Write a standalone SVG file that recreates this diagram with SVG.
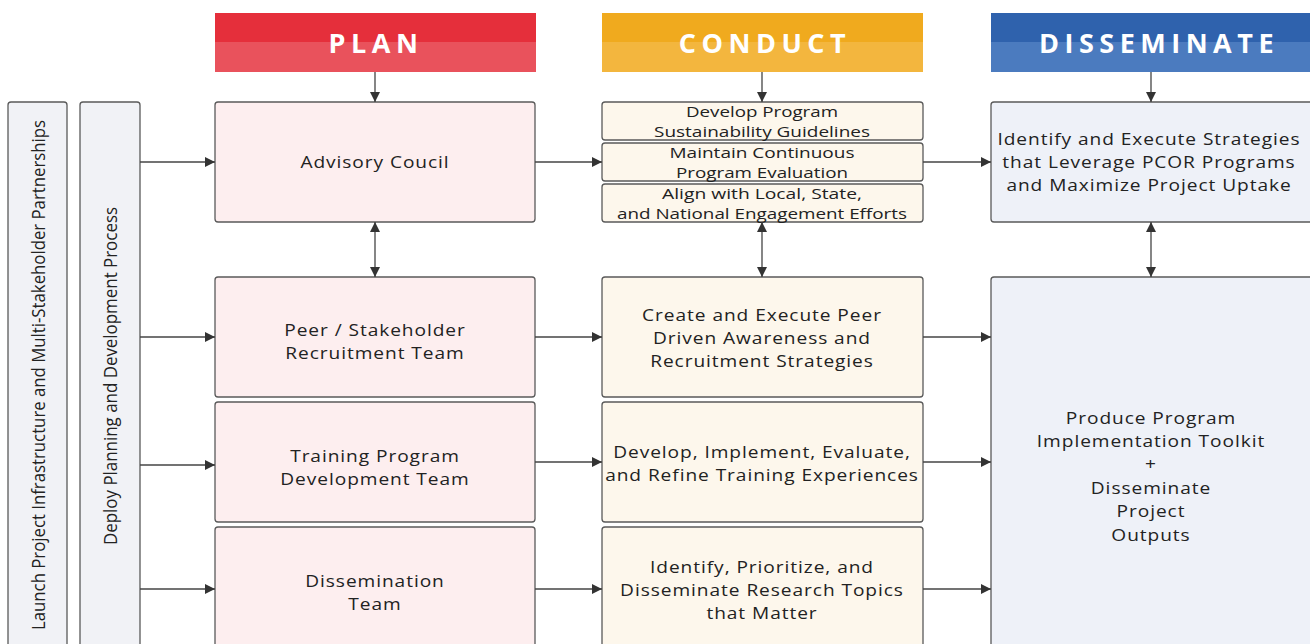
<svg xmlns="http://www.w3.org/2000/svg" width="1310" height="644" viewBox="0 0 1310 644">
  <defs>
    <marker id="arrow" viewBox="0 0 10 10" refX="10" refY="5" markerWidth="10" markerHeight="10" markerUnits="userSpaceOnUse" orient="auto-start-reverse">
      <path d="M0,0 L10,5 L0,10 Z" fill="#333"/>
    </marker>
    <style>
      .box { stroke: #5a5a5a; stroke-width: 1.3; }
      .plan { fill: #fdeeef; }
      .conduct { fill: #fdf7ec; }
      .diss { fill: #eef1f8; }
      .bar { fill: #f1f2f6; }
      .t { font-family: "Open Sans", "Noto Sans", sans-serif; font-size: 16.5px; letter-spacing: 0.8px; fill: #222; text-anchor: middle; dominant-baseline: central; }
      .ts { font-size: 14.5px; letter-spacing: 0; }
      .rt { letter-spacing: 0; font-size: 18px; }
      .hd { font-family: "Open Sans", "Noto Sans", sans-serif; font-size: 27px; font-weight: bold; fill: #fff; text-anchor: middle; dominant-baseline: central; letter-spacing: 5.5px; }
      .c { stroke: #444; stroke-width: 1.3; fill: none; }
    </style>
  </defs>
  <rect width="1310" height="644" fill="#fff"/>

  <!-- Column headers -->
  <g id="header-plan">
    <rect x="215" y="13" width="321" height="30" fill="#e52f3b"/>
    <rect x="215" y="42" width="321" height="30" fill="#e9525c"/>
    <text class="hd" x="376" y="42">PLAN</text>
  </g>
  <g id="header-conduct">
    <rect x="602" y="13" width="321" height="30" fill="#f0aa1e"/>
    <rect x="602" y="42" width="321" height="30" fill="#f3b63e"/>
    <text class="hd" x="765" y="42">CONDUCT</text>
  </g>
  <g id="header-disseminate">
    <rect x="991" y="13" width="320" height="30" fill="#2f62ad"/>
    <rect x="991" y="42" width="320" height="30" fill="#4b7bbf"/>
    <text class="hd" x="1159" y="42">DISSEMINATE</text>
  </g>

  <!-- Side bars -->
  <g id="bar-launch">
    <rect class="box bar" x="8" y="102" width="59" height="560" rx="3"/>
    <text class="t rt" transform="translate(38,375) rotate(-90)" textLength="510" lengthAdjust="spacingAndGlyphs">Launch Project Infrastructure and Multi-Stakeholder Partnerships</text>
  </g>
  <g id="bar-deploy">
    <rect class="box bar" x="80" y="102" width="60" height="560" rx="3"/>
    <text class="t rt" transform="translate(110,376) rotate(-90)" textLength="338" lengthAdjust="spacingAndGlyphs">Deploy Planning and Development Process</text>
  </g>

  <!-- Plan column (labels drawn slightly wide) -->
  <g id="advisory">
    <rect class="box plan" x="215" y="102" width="320" height="120" rx="3"/>
    <g transform="translate(375,0) scale(1.16,1)">
      <text class="t" x="0" y="162">Advisory Coucil</text>
    </g>
  </g>
  <g id="recruitment">
    <rect class="box plan" x="215" y="277" width="320" height="120" rx="3"/>
    <g transform="translate(375,0) scale(1.16,1)">
      <text class="t" x="0" y="330">Peer / Stakeholder</text>
      <text class="t" x="0" y="353">Recruitment Team</text>
    </g>
  </g>
  <g id="training">
    <rect class="box plan" x="215" y="402" width="320" height="120" rx="3"/>
    <g transform="translate(375,0) scale(1.16,1)">
      <text class="t" x="0" y="456">Training Program</text>
      <text class="t" x="0" y="479">Development Team</text>
    </g>
  </g>
  <g id="dissemination-team">
    <rect class="box plan" x="215" y="527" width="320" height="135" rx="3"/>
    <g transform="translate(375,0) scale(1.16,1)">
      <text class="t" x="0" y="581">Dissemination</text>
      <text class="t" x="0" y="604">Team</text>
    </g>
  </g>

  <!-- Conduct column: three stacked task boxes -->
  <g id="sustainability">
    <rect class="box conduct" x="602" y="102" width="321" height="38" rx="3"/>
    <text class="t ts" x="762" y="111" textLength="152" lengthAdjust="spacingAndGlyphs">Develop Program</text>
    <text class="t ts" x="762" y="131" textLength="216" lengthAdjust="spacingAndGlyphs">Sustainability Guidelines</text>
  </g>
  <g id="evaluation">
    <rect class="box conduct" x="602" y="143" width="321" height="38" rx="3"/>
    <text class="t ts" x="762" y="152" textLength="185" lengthAdjust="spacingAndGlyphs">Maintain Continuous</text>
    <text class="t ts" x="762" y="172" textLength="172" lengthAdjust="spacingAndGlyphs">Program Evaluation</text>
  </g>
  <g id="engagement">
    <rect class="box conduct" x="602" y="184" width="321" height="38" rx="3"/>
    <text class="t ts" x="762" y="193" textLength="200" lengthAdjust="spacingAndGlyphs">Align with Local, State,</text>
    <text class="t ts" x="762" y="213" textLength="290" lengthAdjust="spacingAndGlyphs">and National Engagement Efforts</text>
  </g>
  <g id="awareness">
    <rect class="box conduct" x="602" y="277" width="321" height="120" rx="3"/>
    <g transform="translate(762,0) scale(1.16,1)">
      <text class="t" x="0" y="315">Create and Execute Peer</text>
      <text class="t" x="0" y="338">Driven Awareness and</text>
      <text class="t" x="0" y="361">Recruitment Strategies</text>
    </g>
  </g>
  <g id="training-experiences">
    <rect class="box conduct" x="602" y="402" width="321" height="120" rx="3"/>
    <g transform="translate(762,0) scale(1.16,1)">
      <text class="t" x="0" y="452">Develop, Implement, Evaluate,</text>
      <text class="t" x="0" y="475">and Refine Training Experiences</text>
    </g>
  </g>
  <g id="research-topics">
    <rect class="box conduct" x="602" y="527" width="321" height="135" rx="3"/>
    <g transform="translate(762,0) scale(1.16,1)">
      <text class="t" x="0" y="567">Identify, Prioritize, and</text>
      <text class="t" x="0" y="590">Disseminate Research Topics</text>
      <text class="t" x="0" y="613">that Matter</text>
    </g>
  </g>

  <!-- Disseminate column -->
  <g id="strategies">
    <rect class="box diss" x="991" y="102" width="325" height="120" rx="3"/>
    <g transform="translate(1149,0) scale(1.16,1)">
      <text class="t" x="0" y="139">Identify and Execute Strategies</text>
      <text class="t" x="0" y="162">that Leverage PCOR Programs</text>
      <text class="t" x="0" y="185">and Maximize Project Uptake</text>
    </g>
  </g>
  <g id="toolkit">
    <rect class="box diss" x="991" y="277" width="325" height="385" rx="3"/>
    <g transform="translate(1151,0) scale(1.16,1)">
      <text class="t" x="0" y="418">Produce Program</text>
      <text class="t" x="0" y="441">Implementation Toolkit</text>
      <text class="t" x="0" y="464">+</text>
      <text class="t" x="0" y="488">Disseminate</text>
      <text class="t" x="0" y="511">Project</text>
      <text class="t" x="0" y="535">Outputs</text>
    </g>
  </g>

  <!-- Connectors -->
  <g id="connectors">
    <line class="c" x1="375" y1="72" x2="375" y2="102" marker-end="url(#arrow)"/>
    <line class="c" x1="762" y1="72" x2="762" y2="102" marker-end="url(#arrow)"/>
    <line class="c" x1="1151" y1="72" x2="1151" y2="102" marker-end="url(#arrow)"/>

    <line class="c" x1="375" y1="222" x2="375" y2="277" marker-start="url(#arrow)" marker-end="url(#arrow)"/>
    <line class="c" x1="762" y1="222" x2="762" y2="277" marker-start="url(#arrow)" marker-end="url(#arrow)"/>
    <line class="c" x1="1151" y1="222" x2="1151" y2="277" marker-start="url(#arrow)" marker-end="url(#arrow)"/>

    <line class="c" x1="140" y1="162" x2="215" y2="162" marker-end="url(#arrow)"/>
    <line class="c" x1="140" y1="337" x2="215" y2="337" marker-end="url(#arrow)"/>
    <line class="c" x1="140" y1="465" x2="215" y2="465" marker-end="url(#arrow)"/>
    <line class="c" x1="140" y1="589" x2="215" y2="589" marker-end="url(#arrow)"/>

    <line class="c" x1="535" y1="162" x2="602" y2="162" marker-end="url(#arrow)"/>
    <line class="c" x1="535" y1="337" x2="602" y2="337" marker-end="url(#arrow)"/>
    <line class="c" x1="535" y1="462" x2="602" y2="462" marker-end="url(#arrow)"/>
    <line class="c" x1="535" y1="589" x2="602" y2="589" marker-end="url(#arrow)"/>

    <line class="c" x1="923" y1="162" x2="991" y2="162" marker-end="url(#arrow)"/>
    <line class="c" x1="923" y1="337" x2="991" y2="337" marker-end="url(#arrow)"/>
    <line class="c" x1="923" y1="462" x2="991" y2="462" marker-end="url(#arrow)"/>
    <line class="c" x1="923" y1="589" x2="991" y2="589" marker-end="url(#arrow)"/>
  </g>
</svg>
